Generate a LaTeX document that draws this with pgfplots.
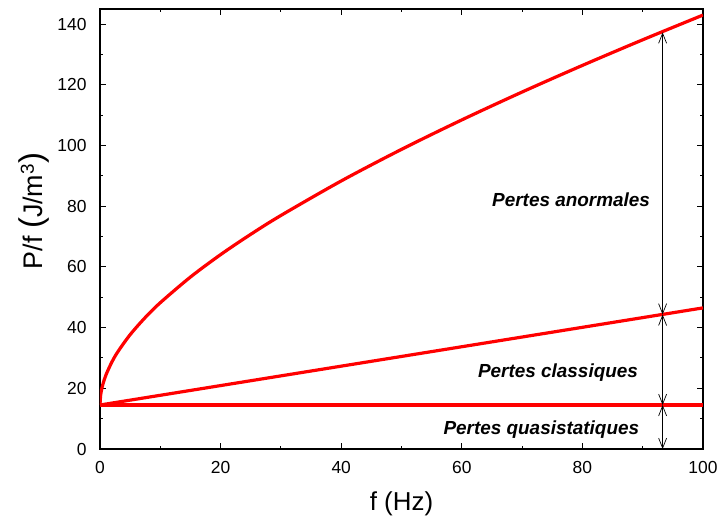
\documentclass[border=0pt]{standalone}
\usepackage{fontspec}
\setmainfont{Liberation Sans}
\usepackage{pgfplots}
\pgfplotsset{compat=1.18}
\usetikzlibrary{arrows.meta}
\begin{document}
\begin{tikzpicture}
\begin{axis}[
  name=ax,
  width=603bp, height=440bp, scale only axis,
  xmin=0, xmax=100, ymin=0, ymax=145,
  xtick={0,20,...,100}, ytick={0,20,...,140},
  minor x tick num=1, minor y tick num=1,
  tick align=inside,
  major tick length=6bp, minor tick length=3.5bp,
  axis line style={line width=1.5bp},
  every tick/.style={line width=1bp, black},
  tick label style={font=\fontsize{17.5}{19}\selectfont},
  yticklabel style={anchor=east, xshift=-10bp},
  xticklabel style={yshift=-9bp},
  /pgf/number format/assume math mode=true,
  xlabel={f (Hz)},
  xlabel style={font=\fontsize{26}{28}\selectfont, at={(rel axis cs:0.5,-0.09)}, anchor=north},
  ylabel={P/f {\fontsize{33}{33}\selectfont(}J/m\textsuperscript{3}{\fontsize{33}{33}\selectfont)}},
  ylabel style={font=\fontsize{27}{29}\selectfont, at={(rel axis cs:-0.109,0.541)}, anchor=center},
]
\addplot[red, line width=3.2bp] coordinates {(0,14.5) (100,14.5)};
\addplot[red, line width=3.2bp] coordinates {(0,14.5) (100,46.5)};
\addplot[red, line width=3.2bp, smooth] coordinates {
(0,14.5) (0.1,17.6) (0.25,19.41) (0.5,21.48) (1,24.47) (2,28.79) (3,32.17) (5,37.68)
(7.5,43.33) (10,48.22) (15,56.67) (20,64.06) (25,70.75) (30,76.96)
(40,88.33) (50,98.74) (60,108.45) (70,117.64) (80,126.41) (90,134.85) (100,143.0)};
\draw[black, line width=0.7bp, {Straight Barb[length=10bp,width=8bp]}-{Straight Barb[length=10bp,width=8bp]}] (axis cs:93.3,0) -- (axis cs:93.3,14.5);
\draw[black, line width=0.7bp, {Straight Barb[length=10bp,width=8bp]}-{Straight Barb[length=10bp,width=8bp]}] (axis cs:93.3,14.5) -- (axis cs:93.3,44.3);
\draw[black, line width=0.7bp, {Straight Barb[length=10bp,width=8bp]}-{Straight Barb[length=10bp,width=8bp]}] (axis cs:93.3,44.3) -- (axis cs:93.3,137.3);
\node[anchor=east, font=\fontsize{19}{21}\selectfont\bfseries\itshape] at (axis cs:91.8,82.1) {Pertes anormales};
\node[anchor=east, font=\fontsize{19}{21}\selectfont\bfseries\itshape] at (axis cs:89.8,25.1) {Pertes classiques};
\node[anchor=east, font=\fontsize{19}{21}\selectfont\bfseries\itshape] at (axis cs:90.0,6.4) {Pertes quasistatiques};
\end{axis}
\pgfresetboundingbox
\path ([xshift=-100bp,yshift=-72bp]ax.south west) rectangle ([xshift=14bp,yshift=9bp]ax.north east);
\end{tikzpicture}
\end{document}
